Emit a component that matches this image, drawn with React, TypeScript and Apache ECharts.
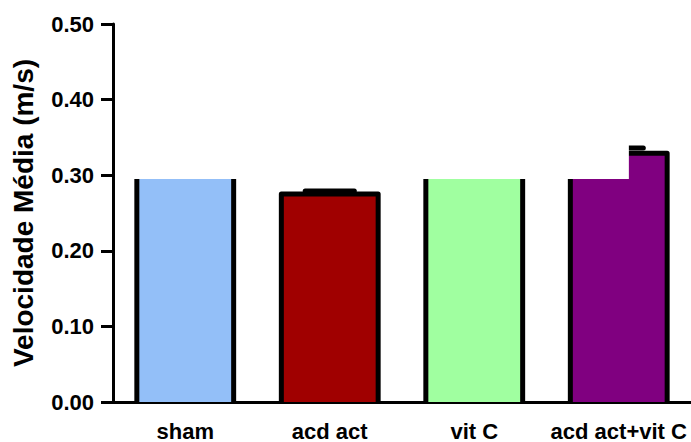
import React, { useEffect, useRef } from "react";
import * as echarts from "echarts";

const categories = ["sham", "acd act", "vit C", "acd act+vit C"];
const means = [0.3, 0.275, 0.3, 0.329];
const errUpper = [null, 0.279, null, 0.336];
const barColors = ["#93BFF8", "#A00000", "#A0FFA0", "#800080"];
const yTicks = [0, 0.1, 0.2, 0.3, 0.4, 0.5];
// blank (white) region that hides the upper-left part of the plot
const maskValue = 0.295;
const maskEndCategory = 3;

const FONT = "'Liberation Sans', Arial, Helvetica, sans-serif";

export default function App() {
  const ref = useRef<HTMLDivElement>(null);
  useEffect(() => {
    if (!ref.current) return;
    const chart = echarts.init(ref.current, undefined, { renderer: "svg" });
    const barFrac = 0.67;
    chart.setOption({
      animation: false,
      backgroundColor: "#ffffff",
      grid: { left: 113, right: 0, top: 24, bottom: 38, containLabel: false },
      xAxis: {
        type: "category",
        data: categories,
        axisTick: { show: false },
        axisLine: { lineStyle: { color: "#000", width: 3 } },
        axisLabel: {
          color: "#000",
          fontSize: 22,
          fontWeight: "bold",
          fontFamily: FONT,
          margin: 18,
          interval: 0,
        },
      },
      yAxis: {
        type: "value",
        min: yTicks[0],
        max: yTicks[yTicks.length - 1],
        interval: 0.1,
        name: "Velocidade Média (m/s)",
        nameLocation: "middle",
        nameGap: 76,
        nameTextStyle: {
          color: "#000",
          fontSize: 28,
          fontWeight: "bold",
          fontFamily: FONT,
        },
        splitLine: { show: false },
        axisLine: { show: true, lineStyle: { color: "#000", width: 3 } },
        axisTick: { show: true, length: 12, lineStyle: { color: "#000", width: 3 } },
        axisLabel: {
          color: "#000",
          fontSize: 22,
          fontWeight: "bold",
          fontFamily: FONT,
          margin: 19,
          formatter: (v: number) => v.toFixed(2),
        },
      },
      series: [
        {
          type: "custom",
          z: 2,
          data: means.map((m, i) => [i, m]),
          renderItem: (params: any, api: any) => {
            const i = api.value(0);
            const top = api.coord([i, api.value(1)]);
            const base = api.coord([i, 0]);
            const bw = api.size([1, 0])[0] * barFrac;
            const l = top[0] - bw / 2;
            const r = top[0] + bw / 2;
            return {
              type: "group",
              children: [
                {
                  type: "rect",
                  shape: { x: l, y: top[1], width: bw, height: base[1] - top[1] },
                  style: { fill: barColors[i] },
                },
                {
                  type: "polyline",
                  shape: {
                    points: [
                      [l, base[1]],
                      [l, top[1]],
                      [r, top[1]],
                      [r, base[1]],
                    ],
                  },
                  style: { stroke: "#000", lineWidth: 5, fill: "none", lineJoin: "round" },
                },
              ],
            };
          },
        },
        {
          type: "custom",
          z: 3,
          data: means
            .map((m, i) => [i, m, errUpper[i]])
            .filter((d) => d[2] != null),
          renderItem: (params: any, api: any) => {
            const i = api.value(0);
            const p0 = api.coord([i, api.value(1)]);
            const p1 = api.coord([i, api.value(2)]);
            const cw = api.size([1, 0])[0] * 0.34;
            return {
              type: "group",
              children: [
                {
                  type: "line",
                  shape: { x1: p0[0], y1: p0[1], x2: p1[0], y2: p1[1] },
                  style: { stroke: "#000", lineWidth: 5 },
                },
                {
                  type: "line",
                  shape: { x1: p1[0] - cw / 2, y1: p1[1], x2: p1[0] + cw / 2, y2: p1[1] },
                  style: { stroke: "#000", lineWidth: 5, lineCap: "round" },
                },
              ],
            };
          },
        },
        {
          type: "custom",
          z: 4,
          silent: true,
          data: [[maskEndCategory, maskValue]],
          renderItem: (params: any, api: any) => {
            const p = api.coord([api.value(0), api.value(1)]);
            const band = api.size([1, 0])[0];
            const cs = params.coordSys;
            const left = cs.x + 2;
            const right = p[0] + band * 0.07;
            return {
              type: "rect",
              shape: { x: left, y: cs.y - 10, width: right - left, height: p[1] - cs.y + 10 },
              style: { fill: "#ffffff" },
            };
          },
        },
      ],
    });
    return () => chart.dispose();
  }, []);
  return (
    <div
      ref={ref}
      style={{ position: "fixed", left: 0, top: 0, width: 691, height: 442 }}
    />
  );
}
